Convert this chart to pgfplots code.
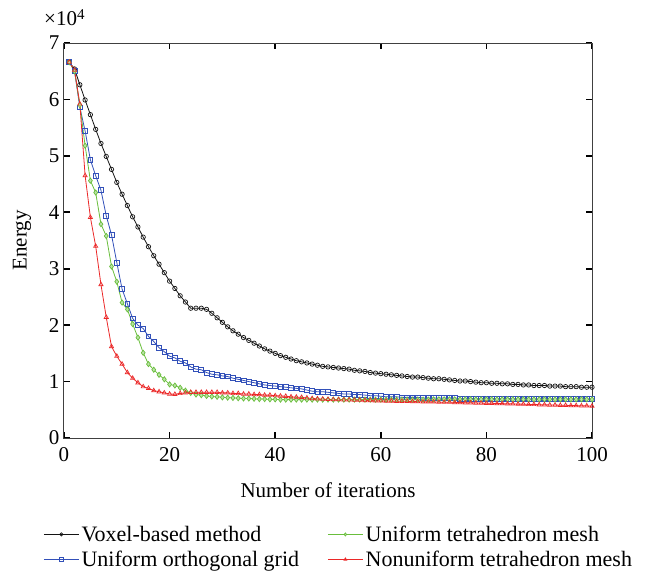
\documentclass[border=0pt]{standalone}
\usepackage{fontspec}
\setmainfont{Liberation Serif}
\usepackage{pgfplots}
\usepackage{pgfplotstable}
\pgfplotsset{compat=1.18}
\definecolor{cvox}{RGB}{20,20,20}
\definecolor{cort}{RGB}{50,80,185}
\definecolor{ctet}{RGB}{105,190,60}
\definecolor{cnon}{RGB}{235,40,40}
\pgfplotstableread{
x vox ort tet non
1 6.66 6.66 6.66 6.66
2 6.54 6.50 6.50 6.52
3 6.26 5.86 5.90 5.92
4 5.99 5.44 5.18 4.65
5 5.73 4.93 4.56 3.91
6 5.47 4.65 4.35 3.40
7 5.22 4.39 3.79 2.72
8 4.99 3.94 3.58 2.14
9 4.76 3.60 3.04 1.62
10 4.53 3.11 2.77 1.45
11 4.32 2.64 2.40 1.31
12 4.12 2.38 2.28 1.16
13 3.92 2.12 2.02 1.06
14 3.74 2.00 1.78 0.98
15 3.56 1.94 1.51 0.91
16 3.39 1.80 1.31 0.88
17 3.23 1.71 1.21 0.84
18 3.08 1.60 1.12 0.82
19 2.93 1.53 1.04 0.80
20 2.78 1.45 0.95 0.78
21 2.65 1.42 0.93 0.775
22 2.52 1.36 0.89 0.79
23 2.41 1.33 0.84 0.80
24 2.30 1.26 0.80 0.81
25 2.30 1.22 0.77 0.81
26 2.30 1.21 0.76 0.81
27 2.28 1.16 0.745 0.81
28 2.21 1.13 0.735 0.81
29 2.13 1.12 0.73 0.81
30 2.05 1.10 0.72 0.80
31 1.97 1.09 0.715 0.80
32 1.90 1.06 0.71 0.79
33 1.84 1.04 0.705 0.79
34 1.78 1.02 0.70 0.78
35 1.73 1.00 0.70 0.78
36 1.68 0.98 0.695 0.77
37 1.63 0.96 0.69 0.77
38 1.58 0.94 0.69 0.76
39 1.54 0.93 0.685 0.76
40 1.50 0.92 0.685 0.75
41 1.46 0.91 0.68 0.745
42 1.43 0.90 0.68 0.74
43 1.40 0.89 0.68 0.73
44 1.37 0.88 0.68 0.725
45 1.35 0.87 0.68 0.72
46 1.33 0.85 0.68 0.71
47 1.31 0.83 0.68 0.70
48 1.29 0.82 0.68 0.695
49 1.27 0.82 0.68 0.69
50 1.26 0.81 0.68 0.685
51 1.25 0.80 0.68 0.68
52 1.24 0.79 0.68 0.68
53 1.23 0.78 0.68 0.675
54 1.22 0.78 0.68 0.675
55 1.20 0.77 0.68 0.67
56 1.19 0.77 0.68 0.67
57 1.18 0.76 0.68 0.665
58 1.16 0.75 0.68 0.665
59 1.15 0.75 0.68 0.66
60 1.14 0.74 0.68 0.66
61 1.13 0.73 0.68 0.655
62 1.12 0.73 0.68 0.655
63 1.11 0.73 0.68 0.65
64 1.10 0.72 0.68 0.65
65 1.09 0.72 0.68 0.65
66 1.08 0.72 0.68 0.645
67 1.08 0.72 0.68 0.645
68 1.07 0.71 0.68 0.64
69 1.06 0.71 0.68 0.64
70 1.05 0.71 0.685 0.64
71 1.05 0.71 0.685 0.635
72 1.04 0.71 0.685 0.635
73 1.03 0.71 0.685 0.635
74 1.02 0.71 0.685 0.63
75 1.01 0.70 0.685 0.63
76 1.01 0.70 0.685 0.625
77 1.00 0.70 0.685 0.625
78 0.99 0.70 0.685 0.62
79 0.98 0.70 0.685 0.62
80 0.98 0.70 0.685 0.615
81 0.97 0.70 0.685 0.615
82 0.97 0.70 0.685 0.61
83 0.96 0.70 0.685 0.61
84 0.96 0.70 0.685 0.605
85 0.95 0.70 0.685 0.605
86 0.95 0.69 0.685 0.60
87 0.94 0.69 0.685 0.60
88 0.94 0.69 0.685 0.595
89 0.93 0.69 0.685 0.595
90 0.93 0.69 0.685 0.59
91 0.93 0.69 0.685 0.59
92 0.92 0.69 0.685 0.585
93 0.92 0.69 0.685 0.585
94 0.92 0.69 0.685 0.58
95 0.91 0.69 0.685 0.58
96 0.91 0.69 0.685 0.575
97 0.91 0.69 0.685 0.575
98 0.90 0.69 0.685 0.57
99 0.90 0.69 0.685 0.57
100 0.90 0.69 0.685 0.565
}\datatable
\begin{document}
\begin{tikzpicture}[font=\fontsize{21}{25}\selectfont]
\path[use as bounding box] (-64pt,-136pt) rectangle (595pt,438pt);
\begin{axis}[
  scale only axis,
  width=528pt, height=395pt,
  xmin=0, xmax=100, ymin=0, ymax=7,
  xtick={0,20,40,60,80,100},
  ytick={0,1,2,3,4,5,6,7},
  tick align=inside,
  major tick length=6pt,
  every tick/.style={black, line width=1.6pt},
  axis line style={draw=black!75, line width=1pt},
  /pgf/number format/assume math mode=true,
  xticklabel style={yshift=-6pt},
  yticklabel style={xshift=-1pt},
  xlabel={Number of iterations},
  ylabel={Energy},
  xlabel style={yshift=-14pt},
  ylabel style={yshift=11pt},
  legend columns=2,
  transpose legend,
  legend cell align=left,
  legend style={draw=none, fill=none, at={(rel axis cs:0.52,-0.212)}, anchor=north,
    font=\fontsize{22}{26}\selectfont,
    /tikz/every even column/.append style={column sep=26pt},
    row sep=4pt},
  legend image code/.code={\draw[mark repeat=2,mark phase=2,#1] plot coordinates {(0pt,0pt) (17.5pt,0pt) (35pt,0pt)};},
  legend image post style={line width=1.5pt, mark size=1.6pt},
  every axis plot/.append style={line width=0.8pt, mark size=2.2pt},
  clip=false,
]
\addplot[cvox, mark=o, mark options={line width=0.7pt}] table[x=x,y=vox] {\datatable};
\addlegendentry{Voxel-based method}
\addplot[cort, mark=square, mark size=2.4pt, mark options={fill=cort!20, line width=0.8pt}] table[x=x,y=ort] {\datatable};
\addlegendentry{Uniform orthogonal grid}
\addplot[ctet, mark=diamond*, mark size=2.6pt, mark options={fill=ctet!45, line width=0.7pt}] table[x=x,y=tet] {\datatable};
\addlegendentry{Uniform tetrahedron mesh}
\addplot[cnon, mark=triangle, mark size=2.4pt, mark options={fill=cnon!25, line width=0.7pt}] table[x=x,y=non] {\datatable};
\addlegendentry{Nonuniform tetrahedron mesh}
\node[anchor=base west, inner sep=0pt] at (rel axis cs:0,1) [xshift=-20pt, yshift=18pt] {×10\raisebox{0.55ex}{\fontsize{15}{15}\selectfont 4}};
\end{axis}
\end{tikzpicture}
\end{document}
